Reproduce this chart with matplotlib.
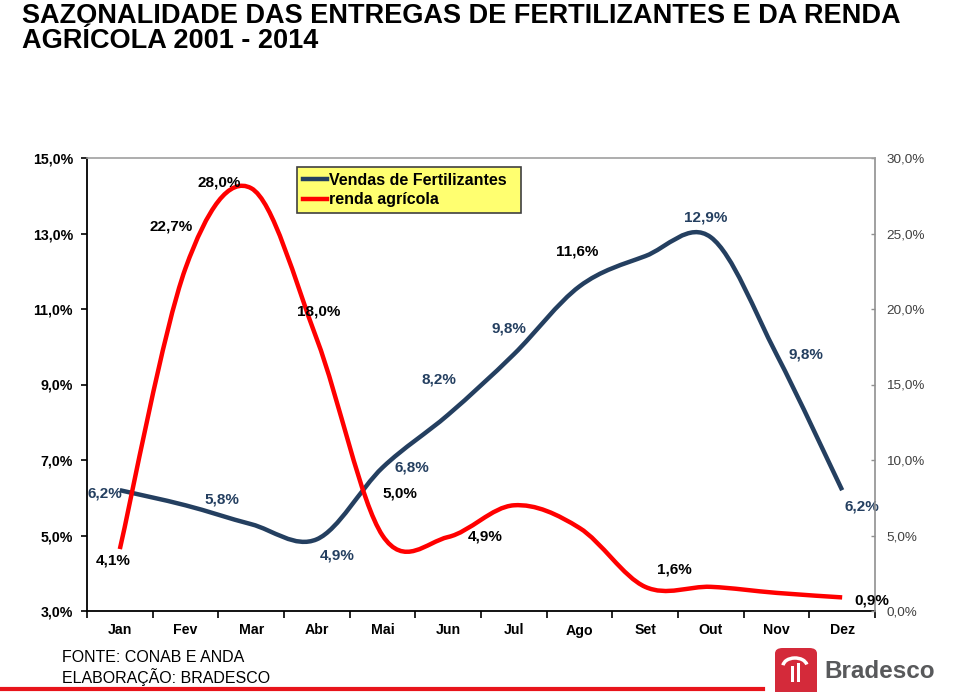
import matplotlib
matplotlib.use("Agg")
import matplotlib.pyplot as plt
import numpy as np
from matplotlib.path import Path
from matplotlib.patches import PathPatch, FancyBboxPatch, Arc, Rectangle
from matplotlib.lines import Line2D

plt.rcParams['font.family'] = ['Liberation Sans', 'DejaVu Sans']

months = ["Jan", "Fev", "Mar", "Abr", "Mai", "Jun", "Jul", "Ago", "Set", "Out", "Nov", "Dez"]
vendas = [6.2, 5.8, 5.3, 4.9, 6.8, 8.2, 9.8, 11.6, 12.4, 12.9, 9.8, 6.2]
renda = [4.1, 22.7, 28.0, 18.0, 5.0, 4.9, 7.0, 5.5, 1.6, 1.6, 1.2, 0.9]

# which points get a label, and the label text
vendas_labels = ["6,2%", "5,8%", None, "4,9%", "6,8%", "8,2%", "9,8%", "11,6%", None, "12,9%", "9,8%", "6,2%"]
renda_labels = ["4,1%", "22,7%", "28,0%", "18,0%", "5,0%", "4,9%", None, None, "1,6%", None, None, "0,9%"]

# label offsets in pixels (dx, dy up)
vendas_off = [(-15, -3), (36, 6), None, (20, -16), (29, 0), (-9, 35), (-5, 26), (-2, 35), None, (-5, 20), (29, 0), (20, -16)]
renda_off = [(-7, -11), (-14, 42), (-32, 6), (2, 28), (17, 42), (37, 1), None, None, (29, 17), None, None, (30, -3)]

BLUE = "#243F60"
RED = "#FF0000"


def smooth_path(x, y):
    # excel-like smoothed line: bezier through every point
    pts = np.column_stack([x, y]).astype(float)
    n = len(pts)
    verts = [pts[0]]
    codes = [Path.MOVETO]
    for i in range(n - 1):
        p0 = pts[max(i - 1, 0)]
        p1 = pts[i]
        p2 = pts[i + 1]
        p3 = pts[min(i + 2, n - 1)]
        c1 = p1 + (p2 - p0) / 6.0
        c2 = p2 - (p3 - p1) / 6.0
        verts += [c1, c2, p2]
        codes += [Path.CURVE4] * 3
    return Path(verts, codes)


fig = plt.figure(figsize=(9.6, 6.92), dpi=100)
ax = fig.add_axes([87 / 960, 1 - 611 / 692, (875 - 87) / 960, (611 - 158) / 692])
ax2 = ax.twinx()

x = np.arange(len(months))

ax.add_patch(PathPatch(smooth_path(x, vendas), facecolor="none", edgecolor=BLUE, lw=3.2, capstyle="butt"))
ax2.add_patch(PathPatch(smooth_path(x, renda), facecolor="none", edgecolor=RED, lw=3.2, capstyle="butt"))

ax.set_xlim(-0.5, 11.5)
ax.set_ylim(3, 15)
ax2.set_ylim(0, 30)
ax.set_yticks(np.arange(3, 16, 2))
ax.set_yticklabels([("%.1f%%" % v).replace(".", ",") for v in np.arange(3, 16, 2)])
ax2.set_yticks(np.arange(0, 31, 5))
ax2.set_yticklabels([("%.1f%%" % v).replace(".", ",") for v in np.arange(0, 31, 5)])

ax.set_xticks(np.arange(-0.5, 12, 1))
ax.set_xticklabels([])
ax.set_xticks(x, minor=True)
ax.set_xticklabels(months, minor=True, fontsize=10.2, fontweight="bold")
ax.tick_params(axis="x", which="minor", length=0, pad=9)
ax.tick_params(axis="x", which="major", length=5, width=1.2, direction="out", color="black")

ax.tick_params(axis="y", length=4, width=1.2, direction="out", pad=6, labelsize=10.2)
for t in ax.get_yticklabels():
    t.set_fontweight("bold")
ax2.tick_params(axis="y", length=3, width=1, direction="in", color="#909090", pad=8,
                labelsize=9.7, labelcolor="#404040")

for s in ["left", "bottom"]:
    ax.spines[s].set_linewidth(1.3)
    ax.spines[s].set_color("black")
ax2.spines["left"].set_visible(False)
ax2.spines["bottom"].set_visible(False)
ax2.spines["right"].set_color("#909090")
ax2.spines["right"].set_linewidth(1.2)
ax2.spines["top"].set_color("#A0A0A0")
ax2.spines["top"].set_linewidth(1.2)
ax.spines["top"].set_visible(False)
ax.spines["right"].set_visible(False)

for i in range(len(months)):
    if vendas_labels[i]:
        col = "black" if vendas_labels[i] == "11,6%" else BLUE
        ax.annotate(vendas_labels[i], (x[i], vendas[i]), xytext=vendas_off[i], textcoords="offset pixels",
                    ha="center", va="center", fontsize=11, fontweight="bold", color=col)
    if renda_labels[i]:
        ax2.annotate(renda_labels[i], (x[i], renda[i]), xytext=renda_off[i], textcoords="offset pixels",
                     ha="center", va="center", fontsize=11, fontweight="bold", color="black")

handles = [Line2D([], [], color=BLUE, lw=3.2), Line2D([], [], color=RED, lw=3.2)]
leg = ax2.legend(handles, ["Vendas de Fertilizantes  ", "renda agrícola"], loc="upper left",
                 bbox_to_anchor=((297 - 87) / 788, (611 - 167) / 453), borderaxespad=0,
                 prop={"weight": "bold", "size": 11.5}, handlelength=1.5, handletextpad=0.15,
                 borderpad=0.35, labelspacing=0.3, fancybox=False, framealpha=1)
leg.get_frame().set_facecolor("#FFFF70")
leg.get_frame().set_edgecolor("#404040")
leg.get_frame().set_linewidth(1.2)

fig.text(22 / 960, 1 - 3 / 692, "SAZONALIDADE DAS ENTREGAS DE FERTILIZANTES E DA RENDA\nAGRÍCOLA 2001 - 2014",
         ha="left", va="top", fontsize=19.5, fontweight="bold", linespacing=0.95)

fig.text(62 / 960, 1 - 658 / 692, "FONTE: CONAB E ANDA", ha="left", va="center", fontsize=11.5)
fig.text(62 / 960, 1 - 677 / 692, "ELABORAÇÃO: BRADESCO", ha="left", va="center", fontsize=11.5)
fig.add_artist(Line2D([0, 763 / 960], [1 - 689 / 692] * 2, color="#E8141B", lw=3, transform=fig.transFigure))

# bradesco logo
fig.add_artist(FancyBboxPatch((775 / 960, -0.01), 42 / 960, 1 - 648 / 692 + 0.01,
                              boxstyle="round,pad=0,rounding_size=0.008", facecolor="#D42A3A",
                              edgecolor="none", transform=fig.transFigure))
fig.add_artist(Arc((795 / 960, 1 - 666 / 692), 24 / 960, 16 / 692, theta1=10, theta2=175,
                   color="white", lw=2.5, transform=fig.transFigure))
fig.add_artist(Rectangle((791 / 960, 1 - 682 / 692), 3 / 960, 16 / 692, facecolor="white",
                         edgecolor="none", transform=fig.transFigure))
fig.add_artist(Rectangle((797 / 960, 1 - 682 / 692), 3 / 960, 19 / 692, facecolor="white",
                         edgecolor="none", transform=fig.transFigure))
fig.text(824 / 960, 1 - 671 / 692, "Bradesco", ha="left", va="center", fontsize=17.5,
         fontweight="bold", color="#58595B")

fig.savefig("out.png", dpi=100)
